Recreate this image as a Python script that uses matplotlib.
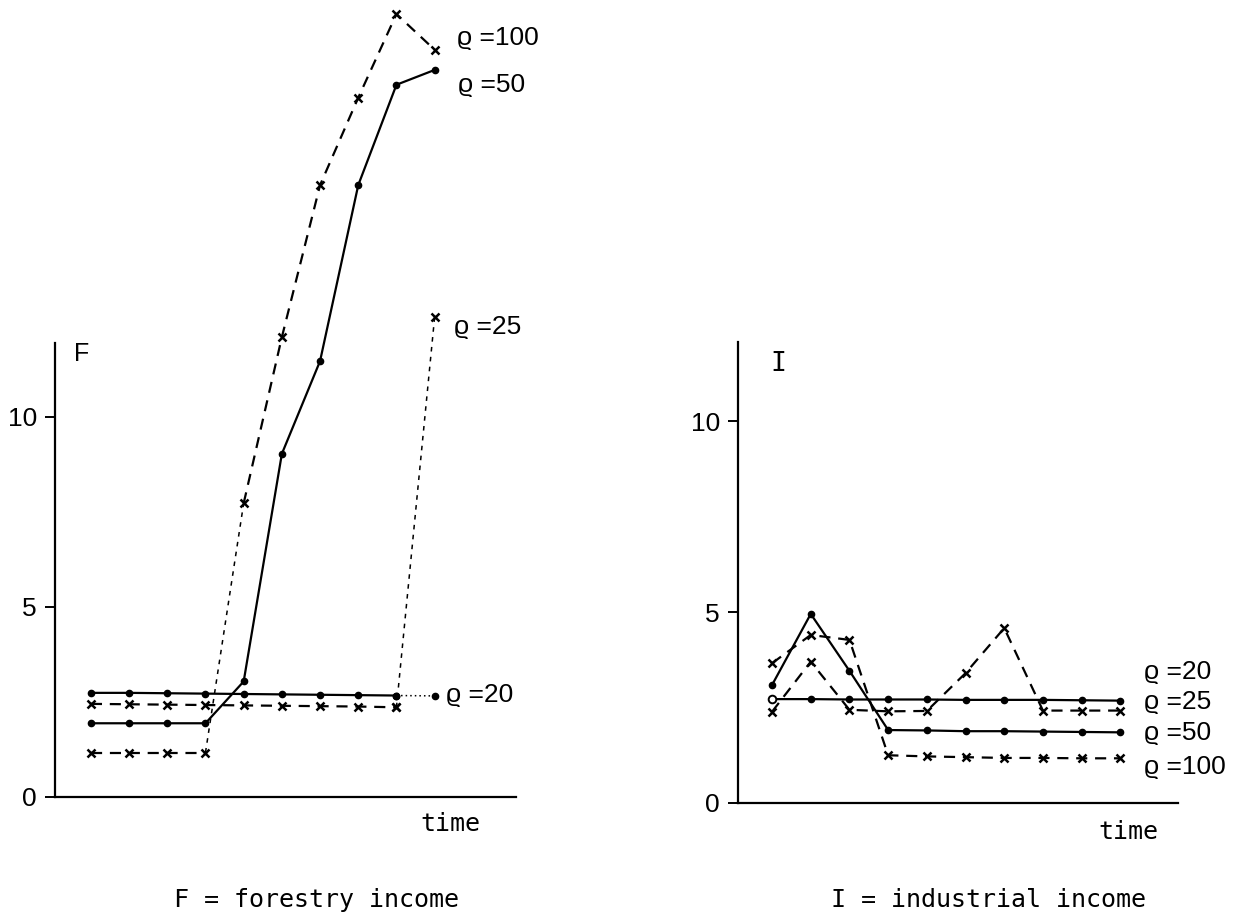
import matplotlib.pyplot as plt

# time steps (same for both panels)
t = [1, 2, 3, 4, 5, 6, 7, 8, 9, 10]

# F = forestry income
f_rho20 = [2.74, 2.74, 2.73, 2.72, 2.71, 2.70, 2.69, 2.68, 2.67, 2.66]
f_rho25 = [2.45, 2.44, 2.43, 2.42, 2.41, 2.40, 2.39, 2.38, 2.36, 12.63]
f_rho50 = [1.94, 1.94, 1.94, 1.94, 3.04, 9.03, 11.47, 16.1, 18.74, 19.13]
f_rho100 = [1.17, 1.17, 1.17, 1.17, 7.73, 12.1, 16.1, 18.4, 20.6, 19.66]

# I = industrial income
i_rho20 = [2.72, 2.72, 2.71, 2.71, 2.71, 2.70, 2.70, 2.70, 2.69, 2.68]
i_rho25 = [2.39, 3.70, 2.44, 2.40, 2.41, 3.40, 4.58, 2.42, 2.42, 2.42]
i_rho50 = [3.09, 4.95, 3.46, 1.91, 1.90, 1.88, 1.88, 1.87, 1.86, 1.85]
i_rho100 = [3.66, 4.40, 4.27, 1.25, 1.22, 1.20, 1.18, 1.18, 1.17, 1.17]

yticks = [0, 5, 10]
num_font = ['Liberation Sans', 'DejaVu Sans']
mono_font = 'DejaVu Sans Mono'

dash = (0, (5, 3.5))
fine = (0, (3, 3.5))

fig = plt.figure(figsize=(12.37, 9.23), dpi=100)


def setup(ax, top):
    for s in ['top', 'right']:
        ax.spines[s].set_visible(False)
    ax.spines['left'].set_bounds(0, top)
    ax.spines['left'].set_linewidth(1.6)
    ax.spines['bottom'].set_linewidth(1.6)
    ax.set_xticks([])
    ax.set_yticks(yticks)
    ax.set_yticklabels([str(v) for v in yticks], family=num_font, fontsize=19)
    ax.tick_params(axis='y', length=7, width=1.4, pad=6)


# ---- left panel: forestry income
ax1 = fig.add_axes([55 / 1237, 126 / 923, 461 / 1237, 797 / 923])
ax1.set_xlim(0.06, 12.13)
ax1.set_ylim(0, 20.97)
setup(ax1, 11.95)

mk = dict(color='black', lw=1.6)
xm = dict(marker='x', ms=5.5, mew=1.8)
dm = dict(marker='o', ms=4.5)
ax1.plot(t[:9], f_rho20[:9], '-', **dm, **mk)
ax1.plot(t[8:], f_rho20[8:], linestyle=(0, (1, 2)), **dm, color='black', lw=1.1)
ax1.plot(t[:9], f_rho25[:9], linestyle=dash, **xm, **mk)
ax1.plot(t[8:], f_rho25[8:], linestyle=fine, **xm, color='black', lw=1.1)
ax1.plot(t, f_rho50, '-', **dm, **mk)
ax1.plot(t[:4], f_rho100[:4], linestyle=dash, **xm, **mk)
ax1.plot(t[3:5], f_rho100[3:5], linestyle=fine, color='black', lw=1.1)
ax1.plot(t[4:], f_rho100[4:], linestyle=dash, **xm, **mk)

ax1.text(0.55, 11.65, 'F', family=num_font, fontsize=18, va='center')
ax1.text(10.58, 19.97, 'ϱ =100', family=num_font, fontsize=19, va='center')
ax1.text(10.6, 18.74, 'ϱ =50', family=num_font, fontsize=19, va='center')
ax1.text(10.5, 12.37, 'ϱ =25', family=num_font, fontsize=19, va='center')
ax1.text(10.3, 2.68, 'ϱ =20', family=num_font, fontsize=19, va='center')
ax1.text(10.4, -0.7, 'time', family=mono_font, fontsize=18, ha='center', va='center')
ax1.text(6.9, -2.7, 'F = forestry income', family=mono_font, fontsize=18, ha='center', va='center')

# ---- right panel: industrial income
ax2 = fig.add_axes([738 / 1237, 120 / 923, 440 / 1237, 461 / 923])
ax2.set_xlim(0.12, 11.49)
ax2.set_ylim(0, 12.07)
setup(ax2, 12.07)

ax2.plot(t, i_rho20, '-', **dm, **mk)
ax2.plot(t[:1], i_rho20[:1], 'o', ms=5.5, mfc='white', mec='black', mew=1.4)
ax2.plot(t, i_rho25, linestyle=dash, **xm, **mk)
ax2.plot(t, i_rho50, '-', **dm, **mk)
ax2.plot(t, i_rho100, linestyle=dash, **xm, **mk)

ax2.text(0.95, 11.5, 'I', family=mono_font, fontsize=19, va='center')
ax2.text(10.6, 3.43, 'ϱ =20', family=num_font, fontsize=19, va='center')
ax2.text(10.6, 2.64, 'ϱ =25', family=num_font, fontsize=19, va='center')
ax2.text(10.6, 1.83, 'ϱ =50', family=num_font, fontsize=19, va='center')
ax2.text(10.6, 0.94, 'ϱ =100', family=num_font, fontsize=19, va='center')
ax2.text(10.2, -0.75, 'time', family=mono_font, fontsize=18, ha='center', va='center')
ax2.text(6.6, -2.55, 'I = industrial income', family=mono_font, fontsize=18, ha='center', va='center')

fig.savefig('out.png', dpi=100)
